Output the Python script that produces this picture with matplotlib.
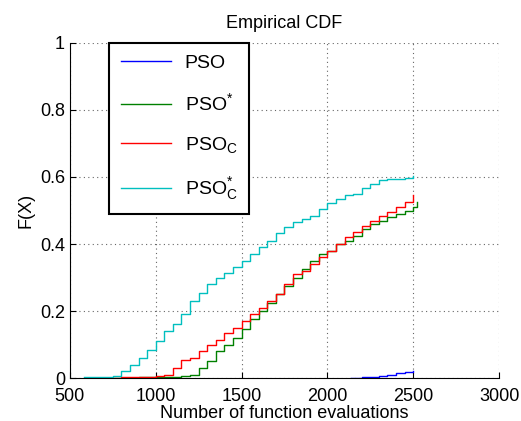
import matplotlib
matplotlib.use('Agg')
import matplotlib.pyplot as plt

plt.rcParams['font.family'] = ['Liberation Sans', 'DejaVu Sans']
plt.rcParams['mathtext.fontset'] = 'custom'
plt.rcParams['mathtext.rm'] = 'Liberation Sans'
plt.rcParams['mathtext.it'] = 'Liberation Sans'

# readings (evaluations, F(X))
pso_x = [2140, 2200, 2250, 2300, 2350, 2400, 2450, 2500]
pso_y = [0.001, 0.002, 0.003, 0.005, 0.010, 0.015, 0.017, 0.020]

psostar_x = [700, 800, 900, 1000, 1100, 1150, 1200, 1250, 1300, 1350, 1400, 1450,
             1500, 1550, 1600, 1650, 1700, 1750, 1800, 1850, 1900, 1950, 2000,
             2050, 2100, 2150, 2200, 2250, 2300, 2350, 2400, 2450, 2500, 2520]
psostar_y = [0.001, 0.001, 0.002, 0.002, 0.003, 0.005, 0.010, 0.030, 0.050, 0.080,
             0.100, 0.120, 0.145, 0.175, 0.200, 0.225, 0.250, 0.275, 0.300, 0.325,
             0.350, 0.370, 0.380, 0.400, 0.410, 0.425, 0.445, 0.460, 0.470, 0.480,
             0.490, 0.500, 0.510, 0.525]

psoc_x = [680, 800, 900, 950, 1000, 1050, 1080, 1100, 1150, 1200, 1250, 1300, 1350,
          1400, 1450, 1500, 1550, 1600, 1650, 1700, 1750, 1800, 1850, 1900, 1950,
          2000, 2050, 2100, 2150, 2200, 2250, 2300, 2350, 2400, 2450, 2500]
psoc_y = [0.001, 0.002, 0.002, 0.004, 0.005, 0.008, 0.010, 0.030, 0.055, 0.060,
          0.080, 0.100, 0.115, 0.135, 0.150, 0.170, 0.190, 0.210, 0.230, 0.250,
          0.280, 0.310, 0.320, 0.340, 0.360, 0.380, 0.400, 0.420, 0.435, 0.455,
          0.470, 0.485, 0.495, 0.510, 0.525, 0.545]

psocstar_x = [580, 650, 750, 800, 850, 900, 950, 1000, 1050, 1100, 1150, 1200, 1250,
              1300, 1350, 1400, 1450, 1500, 1550, 1600, 1650, 1700, 1750, 1800, 1850,
              1900, 1950, 2000, 2050, 2100, 2150, 2200, 2250, 2300, 2350, 2400, 2450,
              2500]
psocstar_y = [0.003, 0.004, 0.005, 0.020, 0.040, 0.060, 0.085, 0.110, 0.140, 0.160,
              0.190, 0.230, 0.255, 0.280, 0.300, 0.313, 0.330, 0.350, 0.370, 0.390,
              0.410, 0.432, 0.450, 0.465, 0.475, 0.485, 0.505, 0.521, 0.535, 0.545,
              0.550, 0.566, 0.580, 0.590, 0.593, 0.595, 0.598, 0.603]

series = [
    (pso_x, pso_y, (0, 0, 1), r'PSO'),
    (psostar_x, psostar_y, (0, 0.5, 0), r'PSO$^{*}$'),
    (psoc_x, psoc_y, (1, 0, 0), r'PSO$_{\mathrm{C}}$'),
    (psocstar_x, psocstar_y, (0, 0.75, 0.75), r'PSO$_{\mathrm{C}}^{*}$'),
]

fig = plt.figure(figsize=(5.21, 4.21), dpi=100)
ax = fig.add_axes([0.134, 0.102, 0.824, 0.796])

for xs, ys, col, lab in series:
    ax.plot(xs, ys, drawstyle='steps-post', color=col, lw=1.0, label=lab)

ax.set_xlim(500, 3000)
ax.set_ylim(0, 1)
ax.set_xticks([500, 1000, 1500, 2000, 2500, 3000])
ax.set_yticks([0, 0.2, 0.4, 0.6, 0.8, 1])
ax.set_yticklabels(['0', '0.2', '0.4', '0.6', '0.8', '1'])
ax.grid(True, linestyle=(0, (1, 3)), color='0.4', linewidth=0.8)
ax.tick_params(direction='in', labelsize=13, length=4)
ax.tick_params(axis='x', pad=7)
ax.spines['top'].set_visible(False)
ax.spines['right'].set_visible(False)
ax.set_xlabel('Number of function evaluations', fontsize=13, labelpad=0)
ax.set_ylabel('F(X)', fontsize=13, labelpad=4)
ax.set_title('Empirical CDF', fontsize=13, pad=11)

leg = ax.legend(loc='upper left', bbox_to_anchor=(0.091, 1.0), fontsize=14,
                handlelength=2.6, handletextpad=0.7, labelspacing=1.05,
                borderpad=0.6, borderaxespad=0.0,
                fancybox=False, framealpha=1, edgecolor='black')
leg.get_frame().set_linewidth(1.5)

fig.savefig('out.png', dpi=100)
